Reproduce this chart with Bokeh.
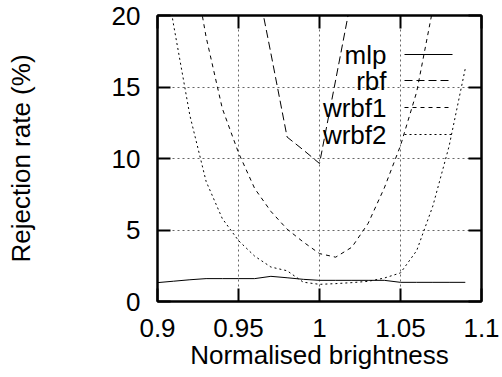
import numpy as np
from bokeh.plotting import figure
from bokeh.models import Range1d, FixedTicker, LinearAxis, Label, Arrow, ColumnDataSource
from bokeh.embed import file_html
from bokeh.resources import INLINE

nan = float("nan")

# ---- data ----
brightness = [0.90, 0.91, 0.92, 0.93, 0.94, 0.95, 0.96, 0.97, 0.98, 0.99,
              1.00, 1.01, 1.02, 1.03, 1.04, 1.05, 1.06, 1.07, 1.08, 1.09]
mlp   = [1.32, 1.42, 1.52, 1.60, 1.60, 1.60, 1.60, 1.76, 1.66, 1.55,
         1.48, 1.48, 1.48, 1.48, 1.48, 1.34, 1.34, 1.34, 1.34, 1.34]
rbf   = [nan, nan, nan, nan, nan, nan, 23.1, 17.35, 11.5, 10.6,
         9.65, 15.5, 21.4, nan, nan, nan, nan, nan, nan, nan]
wrbf1 = [nan, nan, 24.9, 18.5, 13.5, 10.4, 7.9, 6.3, 5.06, 4.16,
         3.35, 3.1, 3.8, 5.46, 7.94, 10.9, 14.66, 20.5, nan, nan]
wrbf2 = [26.0, 19.3, 13.0, 8.4, 5.8, 4.26, 3.17, 2.41, 2.15, 1.35,
         1.2, 1.25, 1.32, 1.41, 1.64, 2.0, 3.56, 6.69, 10.86, 16.3]

series_names = ["mlp", "rbf", "wrbf1", "wrbf2"]
x_ticks = [0.9, 0.95, 1.0, 1.05, 1.1]
x_tick_labels = ["0.9", "0.95", "1", "1.05", "1.1"]
y_ticks = [0, 5, 10, 15, 20]
y_tick_labels = ["0", "5", "10", "15", "20"]
x_label = "Normalised brightness"
y_label = "Rejection rate (%)"

FONT = "Liberation Sans"
FS = "26px"

source = ColumnDataSource(dict(x=brightness, mlp=mlp, rbf=rbf, wrbf1=wrbf1, wrbf2=wrbf2))

p = figure(width=500, height=372, output_backend="svg", toolbar_location=None,
           x_range=Range1d(0.9, 1.1), y_range=Range1d(0, 20),
           min_border_left=157, min_border_right=19, min_border_top=15, min_border_bottom=69,
           x_axis_label=x_label, y_axis_label=y_label)
p.background_fill_color = "white"
p.border_fill_color = "white"
p.outline_line_color = "black"
p.outline_line_width = 2

# grid
for g in (p.xgrid, p.ygrid):
    g.grid_line_color = "#666666"
    g.grid_line_dash = "2 3"
    g.grid_line_width = 1
p.xgrid.ticker = FixedTicker(ticks=x_ticks)
p.ygrid.ticker = FixedTicker(ticks=y_ticks)

def style_axis(ax, ticks, labels):
    ax.ticker = FixedTicker(ticks=ticks)
    ax.major_tick_in = 13
    ax.major_tick_out = 0
    ax.minor_tick_in = 0
    ax.minor_tick_out = 0
    ax.major_tick_line_width = 2
    ax.major_tick_line_color = "black"
    ax.axis_line_width = 2
    ax.axis_line_color = "black"
    ax.major_label_text_font = FONT
    ax.major_label_text_font_size = FS
    ax.major_label_text_color = "black"
    ax.axis_label_text_font = FONT
    ax.axis_label_text_font_size = FS
    ax.axis_label_text_font_style = "normal"
    ax.axis_label_text_color = "black"
    ax.major_label_overrides = {t: l for t, l in zip(ticks, labels)}

style_axis(p.xaxis[0], x_ticks, x_tick_labels)
style_axis(p.yaxis[0], y_ticks, y_tick_labels)
p.xaxis[0].major_label_standoff = 17
p.xaxis[0].axis_label_standoff = 0
p.yaxis[0].major_label_standoff = 17
p.yaxis[0].axis_label_standoff = 73

# mirrored ticks on top and right, without labels
top = LinearAxis()
right = LinearAxis()
style_axis(top, x_ticks, ["" for _ in x_ticks])
style_axis(right, y_ticks, ["" for _ in y_ticks])
for ax in (top, right):
    ax.major_label_standoff = 0
p.add_layout(top, "above")
p.add_layout(right, "right")

styles = {
    "mlp":   dict(line_dash="solid"),
    "rbf":   dict(line_dash="8 4"),
    "wrbf1": dict(line_dash="4 4"),
    "wrbf2": dict(line_dash="2 3"),
}
for name in series_names:
    p.line("x", name, source=source, line_color="black", line_width=1, **styles[name])

# legend (gnuplot style: label right-aligned, sample on the right)
row_y = [247, 221, 194, 167]
for name, yy in zip(series_names, row_y):
    p.add_layout(Label(x=229, y=yy, x_units="screen", y_units="screen", text=name,
                       text_align="right", text_baseline="middle",
                       text_font=FONT, text_font_size=FS, text_color="black"))
    p.add_layout(Arrow(end=None, x_start=247, y_start=yy, x_end=295, y_end=yy,
                       start_units="screen", end_units="screen",
                       line_color="black", line_width=1, **styles[name]))

open("out.html", "w").write(file_html(p, INLINE))
